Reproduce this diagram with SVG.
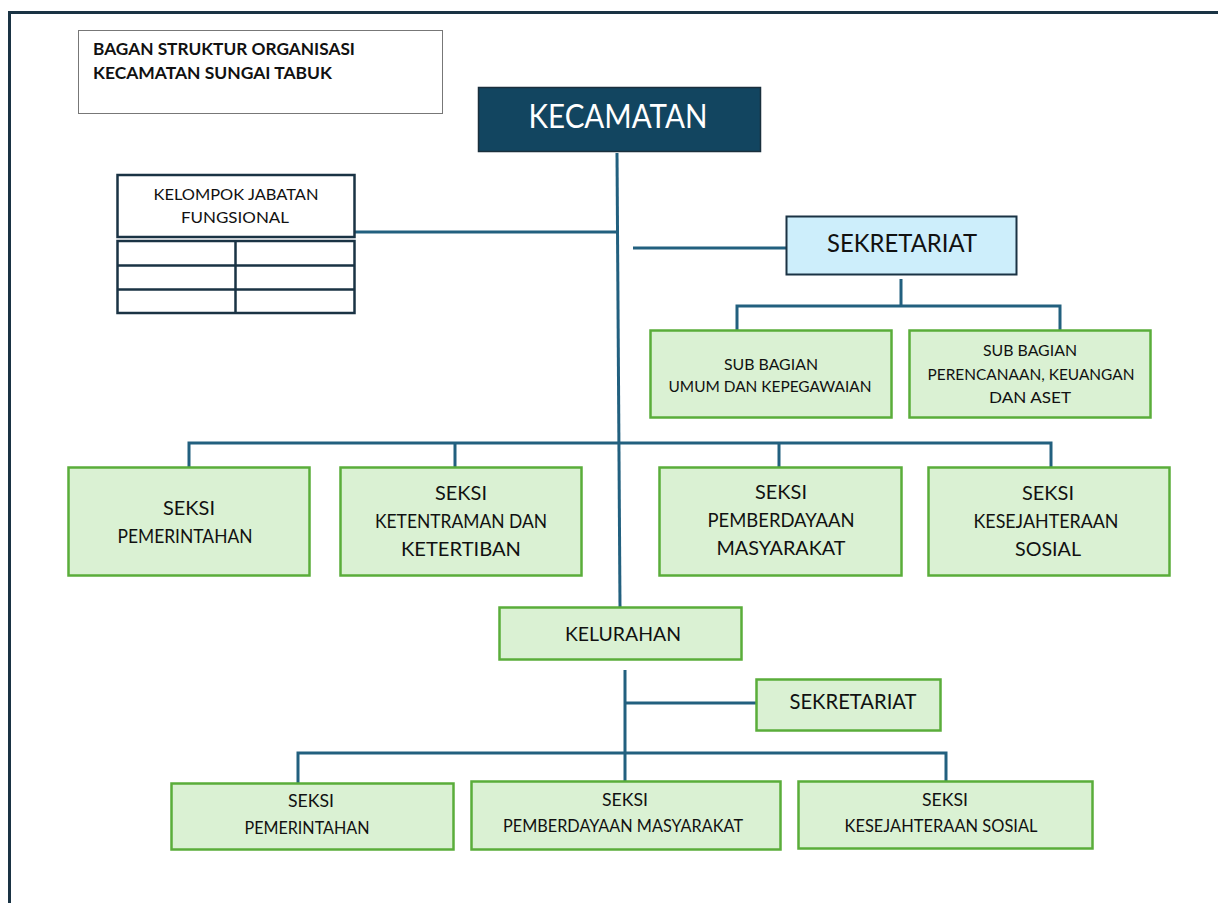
<svg xmlns="http://www.w3.org/2000/svg" width="1218" height="903" viewBox="0 0 1218 903">
<style>
text{font-family:Lato,"Liberation Sans",sans-serif;fill:#111;text-anchor:middle}
.g{fill:#daf1d3;stroke:#5aad3a;stroke-width:2.5}
.ln{stroke:#22607f;stroke-width:3;fill:none}
.t15{font-size:16px}
.t18{font-size:20px}
.t17{font-size:18px}
</style>
<rect width="1218" height="903" fill="#fff"/>
<path d="M9.5,903 V12.5 H1218" fill="none" stroke="#1a3344" stroke-width="3"/>
<g id="title">
<rect x="78.5" y="30.5" width="364" height="83" fill="#fff" stroke="#777" stroke-width="1"/>
<text x="93" y="55" textLength="262" lengthAdjust="spacingAndGlyphs" style="font-size:17px;font-weight:bold;text-anchor:start">BAGAN STRUKTUR ORGANISASI</text>
<text x="93" y="79" textLength="239" lengthAdjust="spacingAndGlyphs" style="font-size:17px;font-weight:bold;text-anchor:start">KECAMATAN SUNGAI TABUK</text>
</g>
<g id="connectors">
<path class="ln" d="M617,153 L620,607"/>
<path class="ln" d="M355,232 H617"/>
<path class="ln" d="M633,248 H786"/>
<path class="ln" d="M901,279 V306 M737,330 V306 H1060 V330"/>
<path class="ln" d="M189,467 V443 H1051 V467 M455,443 V467 M779,443 V467"/>
<path class="ln" d="M625,670 V781 M625,703 H757"/>
<path class="ln" d="M298,783 V753 H946 V781"/>
</g>
<g id="kecamatan">
<rect x="478.5" y="87.5" width="282" height="64" fill="#124560" stroke="#1a2f3c" stroke-width="1.5"/>
<text x="618" y="128" textLength="179" lengthAdjust="spacingAndGlyphs" style="font-size:32px;fill:#fff">KECAMATAN</text>
</g>
<g id="kelompok">
<rect x="117.5" y="175" width="237" height="62" fill="#fff" stroke="#1a3344" stroke-width="2.5"/>
<text class="t15" x="236" y="200" textLength="165" lengthAdjust="spacingAndGlyphs">KELOMPOK JABATAN</text>
<text class="t15" x="235" y="223" textLength="108" lengthAdjust="spacingAndGlyphs">FUNGSIONAL</text>
<rect x="117.5" y="241" width="237" height="72" fill="#fff" stroke="#1a3344" stroke-width="2.5"/>
<path d="M117.5,265.5 H354.5 M117.5,289.5 H354.5 M235.5,241 V313" stroke="#1a3344" stroke-width="2.5"/>
</g>
<g id="sekretariat">
<rect x="786.5" y="216.5" width="230" height="58" fill="#cdeefb" stroke="#1a3344" stroke-width="2"/>
<text x="902" y="252" textLength="150" lengthAdjust="spacingAndGlyphs" style="font-size:25px">SEKRETARIAT</text>
</g>
<g id="subbag-umum">
<rect class="g" x="650.5" y="330.5" width="241" height="87"/>
<text class="t15" x="771" y="370" textLength="94" lengthAdjust="spacingAndGlyphs">SUB BAGIAN</text>
<text class="t15" x="770" y="392" textLength="203" lengthAdjust="spacingAndGlyphs">UMUM DAN KEPEGAWAIAN</text>
</g>
<g id="subbag-perencanaan">
<rect class="g" x="909.5" y="330.5" width="241" height="87"/>
<text class="t15" x="1030" y="356" textLength="94" lengthAdjust="spacingAndGlyphs">SUB BAGIAN</text>
<text class="t15" x="1031" y="380" textLength="207" lengthAdjust="spacingAndGlyphs">PERENCANAAN, KEUANGAN</text>
<text class="t15" x="1030" y="403" textLength="82" lengthAdjust="spacingAndGlyphs">DAN ASET</text>
</g>
<g id="seksi-pemerintahan">
<rect class="g" x="68.5" y="467.5" width="241" height="108"/>
<text class="t18" x="189" y="515" textLength="52" lengthAdjust="spacingAndGlyphs">SEKSI</text>
<text class="t18" x="185" y="543" textLength="135" lengthAdjust="spacingAndGlyphs">PEMERINTAHAN</text>
</g>
<g id="seksi-ketentraman">
<rect class="g" x="340.5" y="467.5" width="241" height="108"/>
<text class="t18" x="461" y="500" textLength="52" lengthAdjust="spacingAndGlyphs">SEKSI</text>
<text class="t18" x="461" y="528" textLength="172" lengthAdjust="spacingAndGlyphs">KETENTRAMAN DAN</text>
<text class="t18" x="461" y="556" textLength="120" lengthAdjust="spacingAndGlyphs">KETERTIBAN</text>
</g>
<g id="seksi-pemberdayaan">
<rect class="g" x="659.5" y="467.5" width="242" height="108"/>
<text class="t18" x="781" y="499" textLength="52" lengthAdjust="spacingAndGlyphs">SEKSI</text>
<text class="t18" x="781" y="527" textLength="147" lengthAdjust="spacingAndGlyphs">PEMBERDAYAAN</text>
<text class="t18" x="781" y="555" textLength="129" lengthAdjust="spacingAndGlyphs">MASYARAKAT</text>
</g>
<g id="seksi-kesejahteraan">
<rect class="g" x="928.5" y="467.5" width="241" height="108"/>
<text class="t18" x="1048" y="500" textLength="52" lengthAdjust="spacingAndGlyphs">SEKSI</text>
<text class="t18" x="1046" y="528" textLength="145" lengthAdjust="spacingAndGlyphs">KESEJAHTERAAN</text>
<text class="t18" x="1048" y="556" textLength="66" lengthAdjust="spacingAndGlyphs">SOSIAL</text>
</g>
<g id="kelurahan">
<rect class="g" x="499.5" y="607.5" width="242" height="52"/>
<text x="623" y="641" textLength="116" lengthAdjust="spacingAndGlyphs" style="font-size:20px">KELURAHAN</text>
</g>
<g id="kel-sekretariat">
<rect class="g" x="756.5" y="679.5" width="184" height="51"/>
<text x="853" y="709" textLength="127" lengthAdjust="spacingAndGlyphs" style="font-size:21px">SEKRETARIAT</text>
</g>
<g id="kel-seksi-pemerintahan">
<rect class="g" x="171.5" y="783.5" width="282" height="66"/>
<text class="t17" x="311" y="807" textLength="46" lengthAdjust="spacingAndGlyphs">SEKSI</text>
<text class="t17" x="307" y="834" textLength="125" lengthAdjust="spacingAndGlyphs">PEMERINTAHAN</text>
</g>
<g id="kel-seksi-pemberdayaan">
<rect class="g" x="471.5" y="781.5" width="309" height="68"/>
<text class="t17" x="625" y="806" textLength="46" lengthAdjust="spacingAndGlyphs">SEKSI</text>
<text class="t17" x="623" y="832" textLength="240" lengthAdjust="spacingAndGlyphs">PEMBERDAYAAN MASYARAKAT</text>
</g>
<g id="kel-seksi-kesejahteraan">
<rect class="g" x="798.5" y="781.5" width="294" height="67"/>
<text class="t17" x="945" y="806" textLength="46" lengthAdjust="spacingAndGlyphs">SEKSI</text>
<text class="t17" x="941" y="832" textLength="193" lengthAdjust="spacingAndGlyphs">KESEJAHTERAAN SOSIAL</text>
</g>
</svg>
